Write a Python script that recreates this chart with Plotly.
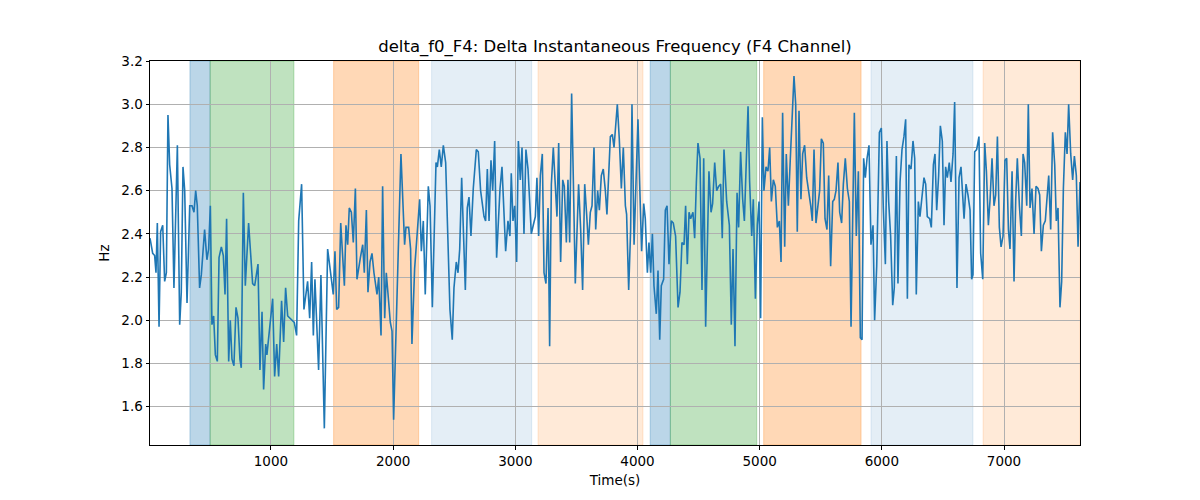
import plotly.graph_objects as go

# ---- data ----
time_s = [10, 32, 48, 59, 70, 84, 97, 114, 130, 144, 157, 171, 190, 206, 234, 253, 266, 280, 294, 313,
          335, 354, 370, 384, 397, 416, 430, 457, 476, 490, 504, 517, 531, 545, 561, 575, 594, 610, 624, 637,
          654, 667, 681, 697, 714, 730, 746, 757,
          774, 790, 817, 850, 867, 894, 910, 927, 940, 957, 967, 989, 1014, 1030, 1047, 1063, 1087, 1104, 1120, 1137,
          1169, 1191, 1210, 1227, 1251, 1270, 1300, 1317, 1333, 1347, 1360, 1390, 1409, 1437, 1464, 1494, 1510,
          1524, 1538, 1554, 1571, 1601, 1614, 1628, 1641, 1658, 1674, 1691, 1704, 1732, 1751, 1764, 1781, 1794,
          1811, 1827, 1843, 1868, 1882, 1901, 1914, 1931, 1944, 1977, 1991, 2004, 2026, 2064, 2094, 2105, 2127,
          2143, 2154, 2176, 2198, 2217, 2231, 2247, 2263,
          2288, 2302, 2321, 2351, 2362, 2378, 2394, 2411, 2430, 2449, 2465, 2484, 2498, 2517, 2531, 2545, 2561,
          2591, 2607, 2621, 2637, 2656, 2681, 2697, 2716, 2744, 2757, 2771, 2785, 2801, 2815, 2831, 2847, 2875,
          2891, 2921, 2940, 2956, 2967, 2981, 2995, 3011, 3025,
          3041, 3055, 3071, 3087, 3104, 3131, 3147, 3164, 3177, 3191, 3205, 3221, 3235, 3251, 3268, 3281, 3295,
          3311, 3325, 3341, 3355, 3371, 3388, 3401, 3418, 3431, 3445, 3461, 3475, 3491, 3518, 3535, 3551, 3568,
          3584, 3598, 3614, 3628, 3644, 3658, 3674, 3688, 3704, 3720, 3737, 3750, 3778,
          3794, 3808, 3835, 3851, 3868, 3884, 3901, 3911, 3928, 3944, 3955, 3972, 4004, 4018, 4034, 4051, 4064,
          4081, 4094, 4108, 4122, 4135, 4154, 4168, 4182, 4195, 4214, 4228, 4242, 4258, 4277, 4293, 4312, 4332,
          4348, 4364, 4381, 4394, 4408, 4422, 4435, 4454, 4468, 4482, 4495, 4512, 4528,
          4542, 4558, 4585, 4602, 4615, 4632, 4648, 4664, 4681, 4694, 4708, 4730, 4752, 4768, 4782, 4798, 4815,
          4828, 4844, 4861, 4875, 4905, 4918, 4935, 4948, 4965, 4981, 4995, 5008, 5022, 5035, 5052, 5068, 5082,
          5096, 5112, 5128, 5145, 5161, 5175, 5188, 5205, 5218, 5235, 5251, 5265, 5281,
          5295, 5308, 5322, 5338, 5352, 5368, 5385, 5401, 5418, 5431, 5445, 5461, 5475, 5491, 5505, 5521, 5535,
          5551, 5565, 5581, 5598, 5611, 5625, 5641, 5655, 5671, 5685, 5701, 5718, 5734, 5748, 5761, 5775, 5791,
          5808, 5824, 5838, 5851, 5865, 5879, 5895, 5911, 5928, 5941, 5958, 5980, 5996, 6012, 6029, 6042,
          6056, 6072, 6089, 6102, 6119, 6132, 6149, 6165, 6181, 6195, 6209, 6222, 6239, 6255, 6269, 6282, 6299,
          6312, 6332, 6345, 6359, 6372, 6392, 6405, 6422, 6435, 6449, 6465, 6479, 6495, 6509, 6522, 6536, 6552,
          6566, 6583, 6596, 6615, 6632, 6648, 6673, 6689, 6705, 6722, 6735, 6746, 6760, 6776, 6795,
          6809, 6826, 6842, 6856, 6872, 6886, 6902, 6918, 6932, 6946, 6962, 6976, 6992, 7008, 7022, 7036, 7049,
          7066, 7082, 7096, 7109, 7126, 7142, 7156, 7169, 7186, 7199, 7213, 7229, 7246, 7262, 7278, 7292, 7306,
          7322, 7338, 7352, 7366, 7382, 7398, 7415, 7428, 7442, 7458, 7472, 7486, 7502, 7516, 7529, 7546, 7562,
          7576, 7592, 7606, 7622]

delta_f0_hz = [2.38, 2.31, 2.30, 2.22, 2.45, 1.97, 2.41, 2.44, 2.18, 2.22, 2.95, 2.72, 2.61, 2.15, 2.81, 1.98, 2.13, 2.71, 2.60, 2.08,
               2.53, 2.53, 2.50, 2.60, 2.53, 2.15, 2.21, 2.42, 2.28, 2.33, 2.53, 1.98, 2.02, 1.84, 1.81, 2.29, 2.34, 2.30, 2.12, 2.47,
               1.81, 2.00, 1.82, 1.79, 2.06, 2.01, 1.82, 1.78,
               2.59, 2.16, 2.45, 2.17, 2.16, 2.26, 1.77, 2.04, 1.68, 1.89, 1.84, 1.96, 2.10, 1.74, 1.89, 1.74, 2.09, 1.90, 2.15, 2.02,
               2.00, 1.99, 1.93, 2.46, 2.63, 2.05, 2.18, 2.01, 2.27, 1.93, 2.19, 1.77, 2.21, 1.50, 2.33, 2.18, 2.12,
               2.32, 2.05, 2.06, 2.45, 2.16, 2.44, 2.35, 2.52, 2.50, 2.36, 2.61, 2.19, 2.29, 2.35, 2.22, 2.51, 2.13,
               2.27, 2.31, 2.22, 2.12, 2.20, 1.93, 2.62, 2.01, 2.22, 1.99, 1.95, 1.54, 2.01, 2.77, 2.35, 2.43, 2.43,
               2.33, 1.89, 2.24, 2.41, 2.56, 2.32, 2.46, 2.12,
               2.62, 2.53, 2.06, 2.73, 2.71, 2.79, 2.71, 2.81, 2.73, 2.36, 2.05, 1.91, 2.15, 2.27, 2.22, 2.33, 2.66,
               2.14, 2.52, 2.57, 2.39, 2.61, 2.79, 2.78, 2.60, 2.48, 2.46, 2.70, 2.46, 2.74, 2.60, 2.83, 2.29, 2.61,
               2.71, 2.32, 2.46, 2.39, 2.68, 2.46, 2.53, 2.27, 2.83,
               2.65, 2.80, 2.40, 2.79, 2.70, 2.40, 2.44, 2.48, 2.66, 2.39, 2.67, 2.77, 2.22, 2.17, 2.52, 1.88, 2.63,
               2.80, 2.65, 2.48, 2.82, 2.27, 2.65, 2.62, 2.36, 2.65, 2.36, 3.05, 2.65, 2.17, 2.63, 2.42, 2.14, 2.63,
               2.49, 2.35, 2.50, 2.53, 2.80, 2.42, 2.60, 2.51, 2.67, 2.70, 2.60, 2.49, 2.85,
               2.86, 2.80, 3.00, 2.84, 2.61, 2.80, 2.53, 2.49, 2.14, 2.42, 3.00, 2.35, 2.93, 2.63, 2.32, 2.54, 2.47,
               2.22, 2.36, 2.22, 2.40, 2.16, 2.03, 2.23, 1.91, 2.16, 2.19, 2.51, 2.53, 2.26, 2.46, 2.45, 2.39, 2.06,
               2.13, 2.36, 2.35, 2.53, 2.26, 2.50, 2.47, 2.50, 2.38, 2.64, 2.82, 2.75, 2.14,
               2.75, 1.97, 2.69, 2.50, 2.54, 2.73, 2.60, 2.62, 2.63, 2.38, 2.79, 2.55, 2.44, 1.98, 2.33, 1.88, 2.59,
               2.43, 2.78, 2.56, 2.46, 2.99, 2.64, 2.39, 2.56, 2.10, 2.44, 2.55, 2.01, 2.94, 2.60, 2.71, 2.69, 2.80,
               2.55, 2.65, 2.62, 2.43, 2.46, 2.27, 2.96, 2.34, 2.77, 2.53, 2.75, 2.92, 3.13,
               3.00, 2.41, 2.97, 2.56, 2.77, 2.81, 2.66, 2.60, 2.53, 2.46, 2.79, 2.45, 2.51, 2.60, 2.84, 2.82, 2.47,
               2.42, 2.67, 2.25, 2.55, 2.56, 2.60, 2.73, 2.50, 2.45, 2.63, 2.75, 2.61, 2.55, 1.97, 2.47, 2.96, 2.39,
               2.69, 1.92, 1.91, 2.75, 2.66, 2.75, 2.81, 2.35, 2.44, 2.00, 2.25, 2.87, 2.89, 2.52, 2.26, 2.83,
               2.55, 2.39, 2.07, 2.15, 2.76, 2.17, 2.64, 2.79, 2.85, 2.93, 2.10, 2.72, 2.70, 2.83, 2.75, 2.12, 2.55,
               2.48, 2.58, 2.66, 2.63, 2.48, 2.47, 2.43, 2.72, 2.77, 2.51, 2.67, 2.90, 2.83, 2.44, 2.71, 2.66, 2.73,
               2.64, 2.77, 3.01, 2.15, 2.66, 2.71, 2.47, 2.63, 2.58, 2.51, 2.19, 2.21, 2.78, 2.79, 2.85,
               2.31, 2.19, 2.82, 2.69, 2.44, 2.56, 2.75, 2.53, 2.58, 2.85, 2.43, 2.34, 2.39, 2.74, 2.75, 2.42, 2.33,
               2.69, 2.18, 2.56, 2.75, 2.53, 2.39, 2.77, 2.73, 2.53, 3.00, 2.52, 2.61, 2.40, 2.62, 2.61, 2.58, 2.32,
               2.44, 2.46, 2.58, 2.67, 2.42, 2.87, 2.72, 2.46, 2.52, 2.06, 2.18, 2.61, 2.87, 2.77, 3.00, 2.77, 2.65,
               2.76, 2.67, 2.34, 2.64]

# shaded intervals: start, end, colour
span_starts = [337, 502, 1513, 2315, 3186, 4104, 4269, 5033, 5911, 6829]
span_ends = [502, 1188, 2209, 3134, 4045, 4269, 4976, 5830, 6746, 7622]
span_colors = ["rgba(31,119,180,0.3)", "rgba(44,160,44,0.3)", "rgba(255,127,14,0.3)",
               "rgba(31,119,180,0.12)", "rgba(255,127,14,0.16)",
               "rgba(31,119,180,0.3)", "rgba(44,160,44,0.3)", "rgba(255,127,14,0.3)",
               "rgba(31,119,180,0.12)", "rgba(255,127,14,0.16)"]

x_ticks = [1000, 2000, 3000, 4000, 5000, 6000, 7000]
y_ticks = [1.6, 1.8, 2.0, 2.2, 2.4, 2.6, 2.8, 3.0, 3.2]

FONT = "DejaVu Sans"

fig = go.Figure()
fig.add_trace(go.Scatter(x=time_s, y=delta_f0_hz, mode="lines",
                         line=dict(color="#1f77b4", width=1.6), showlegend=False))

for s, e, c in zip(span_starts, span_ends, span_colors):
    fig.add_shape(type="rect", xref="x", yref="paper", x0=s, x1=e, y0=0, y1=1,
                  fillcolor=c, line=dict(color=c, width=1), layer="below")

axis_common = dict(showgrid=True, gridcolor="#b0b0b0", gridwidth=0.8,
                   showline=True, linecolor="black", linewidth=1, mirror=True,
                   ticks="outside", ticklen=3.5, tickwidth=0.8, tickcolor="black",
                   zeroline=False, tickfont=dict(family=FONT, size=13.5, color="black"))

fig.update_xaxes(range=[10, 7622], tickvals=x_ticks,
                 title=dict(text="Time(s)", font=dict(family=FONT, size=13.5, color="black"), standoff=7),
                 **axis_common)
fig.update_yaxes(range=[1.423, 3.2], tickvals=y_ticks, tickformat=".1f",
                 title=dict(text="Hz", font=dict(family=FONT, size=13.5, color="black"), standoff=8),
                 **axis_common)

fig.update_layout(
    width=1200, height=500,
    margin=dict(l=150, r=120, t=61, b=55),
    plot_bgcolor="white", paper_bgcolor="white",
    title=dict(text="delta_f0_F4: Delta Instantaneous Frequency (F4 Channel)",
               font=dict(family=FONT, size=16.5, color="black"),
               x=0.5125, xanchor="center", y=0.908, yanchor="middle", yref="container"),
)

# remove the default 8px body margin so the figure sits at the page origin
fig.write_html("out.html", config={"displayModeBar": False},
               post_script="document.body.style.margin='0px';")
